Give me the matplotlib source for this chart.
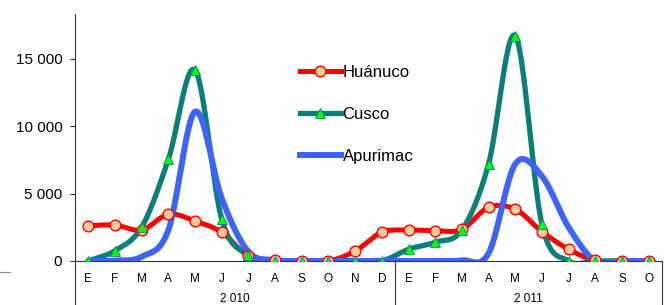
import numpy as np
import matplotlib
matplotlib.use("Agg")
import matplotlib.pyplot as plt
from matplotlib.lines import Line2D

plt.rcParams['font.family'] = ['Liberation Sans', 'DejaVu Sans']

months = ["E", "F", "M", "A", "M", "J", "J", "A", "S", "O", "N", "D",
          "E", "F", "M", "A", "M", "J", "J", "A", "S", "O"]
years = ["2 010", "2 011"]
year_spans = [(0, 12), (12, 22)]

huanuco = [2620, 2670, 2300, 3470, 2970, 2130, 370, 80, 0, 0, 740, 2130,
           2300, 2250, 2350, 3990, 3840, 2180, 870, 50, 0, 0]
cusco = [0, 770, 2520, 7550, 14180, 3100, 450, 0, 0, 0, 0, 0,
         870, 1390, 2300, 7200, 16730, 2720, 0, 0, 0, 0]
apurimac = [0, 30, 320, 2300, 11090, 4650, 690, 70, 0, 0, 0, 0,
            0, 0, 50, 570, 7200, 6300, 2500, 0, 0, 0]
yticks = [0, 5000, 10000, 15000]
ytick_labels = ["0", "5 000", "10 000", "15 000"]


def smooth(y, n=30):
    """Excel-style smoothed line (Catmull-Rom Bezier)."""
    y = np.asarray(y, float)
    x = np.arange(len(y)) + 0.5
    xs, ys = [], []
    for i in range(len(y) - 1):
        p0 = y[i - 1] if i > 0 else y[i]
        p1, p2 = y[i], y[i + 1]
        p3 = y[i + 2] if i + 2 < len(y) else y[i + 1]
        m1 = (p2 - p0) / 2 if i > 0 else (p2 - p1)
        m2 = (p3 - p1) / 2 if i + 2 < len(y) else (p2 - p1)
        t = np.linspace(0, 1, n, endpoint=False)
        h00 = 2 * t**3 - 3 * t**2 + 1
        h10 = t**3 - 2 * t**2 + t
        h01 = -2 * t**3 + 3 * t**2
        h11 = t**3 - t**2
        xs.append(x[i] + t)
        ys.append(h00 * p1 + h10 * m1 + h01 * p2 + h11 * m2)
    xs.append([x[-1]])
    ys.append([y[-1]])
    return np.concatenate(xs), np.concatenate(ys)


W, H = 669, 305
fig = plt.figure(figsize=(W / 100, H / 100), dpi=100)
ax_l, ax_r, ax_b, ax_t = 75, 662, 261, 14
ax = fig.add_axes([ax_l / W, (H - ax_b) / H, (ax_r - ax_l) / W, (ax_b - ax_t) / H])

x = np.arange(len(months)) + 0.5
red = "#FF0000"
teal = "#0A7F7A"
blue = "#3D63FF"

hx, hy = smooth(huanuco)
cx, cy = smooth(cusco)
bx, by = smooth(apurimac)
ax.plot(hx, hy, color=red, lw=3.6, solid_capstyle='round', zorder=3)
ax.plot(cx, cy, color=teal, lw=3.8, solid_capstyle='round', zorder=4)
ax.plot(bx, by, color=blue, lw=4.3, solid_capstyle='round', zorder=5)
ax.plot(x, huanuco, ls='none', marker='o', ms=7.7, mfc="#FFCC99", mec=red, mew=1.0, zorder=6)
ax.plot(x, cusco, ls='none', marker='^', ms=7, mfc="#00FF00", mec=teal, mew=0.6, zorder=7)

ymax = 15000 * (ax_b - ax_t) / (ax_b - 59)
ax.set_ylim(0, ymax)
ax.set_xlim(0, len(months))
ax.set_yticks(yticks)
ax.set_yticklabels(ytick_labels, fontsize=11)
ax.tick_params(axis='y', length=3.6, width=0.8, color='#333333', pad=5.5)
ax.set_xticks(x)
ax.set_xticklabels(months, fontsize=8.5)
ax.tick_params(axis='x', length=0, pad=8.5)

for s in ['top', 'right']:
    ax.spines[s].set_visible(False)
for s in ['left', 'bottom']:
    ax.spines[s].set_color('#333333')
    ax.spines[s].set_linewidth(0.8)
ax.spines['bottom'].set_zorder(2)

# category group separators below axis
trans = ax.get_xaxis_transform()
ybot = -(H - ax_b) / (ax_b - ax_t) - 0.02
for xv in [0, 12, 22]:
    ax.plot([xv, xv], [0, ybot], transform=trans, color='#333333', lw=0.8, clip_on=False)
for (a, b), lab in zip(year_spans, years):
    ax.text((a + b) / 2, -(299 - ax_b) / (ax_b - ax_t), lab, transform=trans,
            ha='center', va='center', fontsize=8.5)

# small dash at far left
fig.add_artist(Line2D([0 / W, 10 / W], [(H - 272) / H, (H - 272) / H], color='#888888', lw=0.8))

handles = [
    Line2D([], [], color=red, lw=3.6, marker='o', ms=7.7, mfc="#FFCC99", mec=red, mew=1.0),
    Line2D([], [], color=teal, lw=3.8, marker='^', ms=7, mfc="#00FF00", mec=teal, mew=0.6),
    Line2D([], [], color=blue, lw=4.3),
]
leg = fig.legend(handles, ["Huánuco", "Cusco", "Apurimac"], loc='upper left',
                 bbox_to_anchor=(300 / W, (H - 65) / H), frameon=False, fontsize=12,
                 handlelength=2.45, handletextpad=0.1, labelspacing=1.62,
                 borderpad=0, borderaxespad=0, markerscale=1.0, numpoints=1)

fig.savefig("out.png", dpi=100)
